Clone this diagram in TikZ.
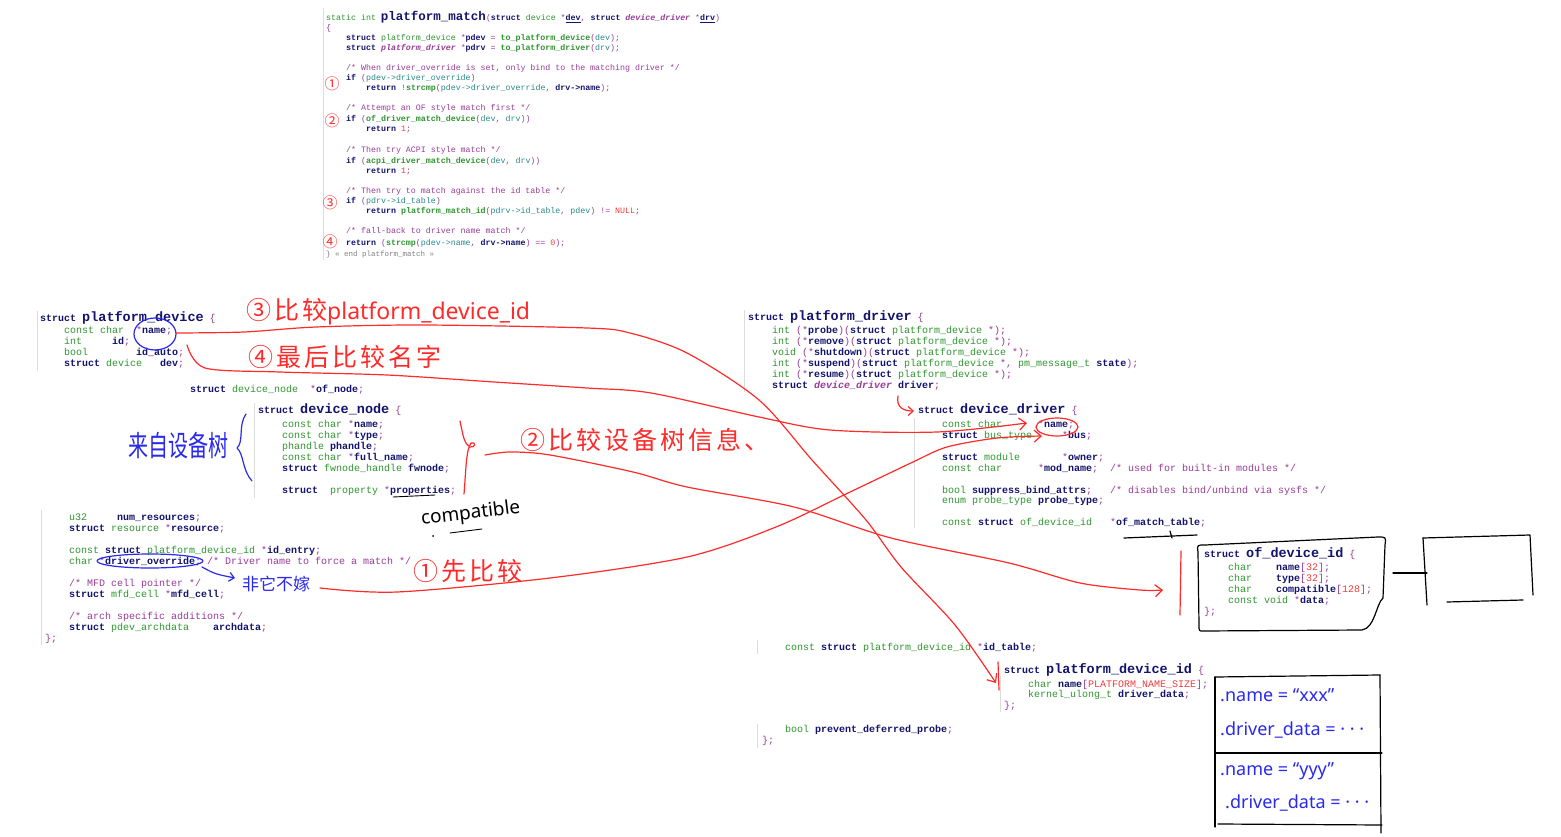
\documentclass[tikz,border=0pt]{standalone}
\usepackage{fontspec}
\usepackage{graphicx}
\usetikzlibrary{arrows.meta}
\newfontfamily\codefont{Liberation Mono}
\newfontfamily\cjkfont{Noto Sans CJK SC}
\newfontfamily\latinhand{Noto Sans}

\definecolor{cnavy}{HTML}{14146E}
\definecolor{cgreen}{HTML}{2F962F}
\definecolor{cteal}{HTML}{2A8A8A}
\definecolor{cpurple}{HTML}{9A3C9A}
\definecolor{numred}{HTML}{F03C3C}
\definecolor{editorgray}{HTML}{DCDCDC}
\definecolor{penred}{HTML}{FF2A2A}
\definecolor{penblue}{HTML}{2A2AEE}

\newcommand\ckw[1]{{\color{cnavy}\bfseries #1}}
\newcommand\cty[1]{{\color{cgreen}#1}}
\newcommand\cfn[1]{{\color{cgreen}\bfseries #1}}
\newcommand\cva[1]{{\color{cteal}#1}}
\newcommand\ccm[1]{{\color{cpurple}#1}}
\newcommand\cnum[1]{{\color{numred}#1}}
\newcommand\cit[1]{{\color{cpurple}\bfseries\itshape #1}}
\newcommand\chd[2][13.5]{{\fontsize{#1}{#1}\selectfont\color{cnavy}\bfseries #2}}
\newcommand\gap[1]{\hspace*{#1\dimexpr.6em\relax}}

\tikzset{
  codeline/.style={anchor=base west, inner sep=0pt, text=cpurple,
    font=\codefont\fontsize{10}{11}\selectfont\frenchspacing},
  matchline/.style={codeline, font=\codefont\fontsize{8.3}{10}\selectfont\frenchspacing},
  editorline/.style={draw=editorgray, line width=0.7pt},
  redpen/.style={draw=penred, line width=1.2pt, line cap=round, line join=round},
  bluepen/.style={draw=penblue, line width=1.2pt, line cap=round, line join=round},
  blackpen/.style={draw=black, line width=1.2pt, line cap=round, line join=round},
  penarrow/.style={-{Straight Barb[length=7pt,width=12pt]}},
  rednote/.style={anchor=base west, inner sep=0pt, text=penred,
    font=\cjkfont\fontsize{25}{25}\selectfont\addfontfeature{LetterSpace=12}},
  bluenote/.style={anchor=base west, inner sep=0pt, text=penblue,
    font=\cjkfont\fontsize{17}{17}\selectfont},
  boxnote/.style={anchor=base west, inner sep=0pt, text=penblue,
    font=\latinhand\fontsize{18}{18}\selectfont},
  redmark/.style={inner sep=0pt, text=penred, font=\cjkfont\fontsize{15}{15}\selectfont}
}

\begin{document}
\catcode`\_=12
\begin{tikzpicture}[x=1pt, y=-1pt]
  \fill[white] (0,0) rectangle (1561,837);
  \useasboundingbox (0,0) rectangle (1561,837);

  \draw[editorline] (323,8) -- (323,260);
  \draw[editorline] (37,311) -- (37,371);
  \draw[editorline] (254,403) -- (254,498);
  \draw[editorline] (41,510) -- (41,645);
  \draw[editorline] (744,310) -- (744,392);
  \draw[editorline] (914,418) -- (914,528);
  \draw[editorline] (757,640) -- (757,654);
  \draw[editorline] (1000,676) -- (1000,712);
  \draw[editorline] (757,724) -- (757,748);

  \foreach \xx/\yy/\txt [count=\k] in {
    326/21/{\cty{static int} \chd[12.5]{platform_match}(\ckw{struct} \cty{device} *\ckw{\underline{dev}}, \ckw{struct} \cit{device_driver} *\ckw{\underline{drv}})},
    326/31/{\{},
    346/41/{\ckw{struct} \cty{platform_device} *\ckw{pdev} = \cfn{to_platform_device}(\cva{dev});},
    346/51/{\ckw{struct} \cit{platform_driver} *\ckw{pdrv} = \cfn{to_platform_driver}(\cva{drv});},
    346/71/{\ccm{/* When driver_override is set, only bind to the matching driver */}},
    346/81/{\ckw{if} (\cva{pdev->driver_override})},
    366/91/{\ckw{return} !\cfn{strcmp}(\cva{pdev->driver_override}, \ckw{drv->name});},
    346/111/{\ccm{/* Attempt an OF style match first */}},
    346/122/{\ckw{if} (\cfn{of_driver_match_device}(\cva{dev}, \cva{drv}))},
    366/132/{\ckw{return} \cnum{1};},
    346/153/{\ccm{/* Then try ACPI style match */}},
    346/164/{\ckw{if} (\cfn{acpi_driver_match_device}(\cva{dev}, \cva{drv}))},
    366/174/{\ckw{return} \cnum{1};},
    346/194/{\ccm{/* Then try to match against the id table */}},
    346/204/{\ckw{if} (\cva{pdrv->id_table})},
    366/214/{\ckw{return} \cfn{platform_match_id}(\cva{pdrv->id_table}, \cva{pdev}) != \cnum{NULL};},
    346/234/{\ccm{/* fall-back to driver name match */}},
    346/245/{\ckw{return} (\cfn{strcmp}(\cva{pdev->name}, \ckw{drv->name}) == \cnum{0});},
    326/257/{{\fontsize{7.5}{8}\selectfont\color{gray}\} « end platform_match »}}}
  {
    \node[matchline] (pm\k) at (\xx,\yy) {\txt};
  }
  \node[redmark] (m1) at (332,84) {①};
  \node[redmark] (m2) at (332,121) {②};
  \node[redmark] (m3) at (330,203) {③};
  \node[redmark] (m4) at (330,242) {④};

  \foreach \xx/\yy/\txt [count=\k] in {
    40/321/{\ckw{struct} \chd{platform_device} \{},
    64/333/{\cty{const char}\gap{2}*\ckw{name};},
    64/344/{\cty{int}\gap{5}\ckw{id};},
    64/355/{\cty{bool}\gap{8}\ckw{id_auto};},
    64/366/{\ckw{struct} \cty{device}\gap{3}\ckw{dev};},
    190/392/{\ckw{struct} \cty{device_node}\gap{2}*\ckw{of_node};},
    69/520/{\cty{u32}\gap{5}\ckw{num_resources};},
    69/531/{\ckw{struct} \cty{resource} *\ckw{resource};},
    69/553/{\cty{const} \ckw{struct} \cty{platform_device_id} *\ckw{id_entry};},
    69/564/{\cty{char} *\ckw{driver_override}; \ccm{/* Driver name to force a match */}},
    69/586/{\ccm{/* MFD cell pointer */}},
    69/597/{\ckw{struct} \cty{mfd_cell} *\ckw{mfd_cell};},
    69/619/{\ccm{/* arch specific additions */}},
    69/630/{\ckw{struct} \cty{pdev_archdata}\gap{4}\ckw{archdata};},
    45/641/{\};}}
  {
    \node[codeline] (pd\k) at (\xx,\yy) {\txt};
  }

  \foreach \xx/\yy/\txt [count=\k] in {
    258/413/{\ckw{struct} \chd{device_node} \{},
    282/427/{\cty{const char} *\ckw{name};},
    282/438/{\cty{const char} *\ckw{type};},
    282/449/{\cty{phandle} \ckw{phandle};},
    282/460/{\cty{const char} *\ckw{full_name};},
    282/471/{\ckw{struct} \cty{fwnode_handle} \ckw{fwnode};},
    282/493/{\ckw{struct}\gap{2}\cty{property} *\ckw{properties};}}
  {
    \node[codeline] (dn\k) at (\xx,\yy) {\txt};
  }

  \foreach \xx/\yy/\txt [count=\k] in {
    748/320/{\ckw{struct} \chd{platform_driver} \{},
    772/333/{\cty{int} (*\ckw{probe})(\ckw{struct} \cty{platform_device} *);},
    772/344/{\cty{int} (*\ckw{remove})(\ckw{struct} \cty{platform_device} *);},
    772/355/{\cty{void} (*\ckw{shutdown})(\ckw{struct} \cty{platform_device} *);},
    772/366/{\cty{int} (*\ckw{suspend})(\ckw{struct} \cty{platform_device} *, \cty{pm_message_t} \ckw{state});},
    772/377/{\cty{int} (*\ckw{resume})(\ckw{struct} \cty{platform_device} *);},
    772/388/{\ckw{struct} \cit{device_driver} \ckw{driver};},
    785/650/{\cty{const} \ckw{struct} \cty{platform_device_id} *\ckw{id_table};},
    785/732/{\cty{bool} \ckw{prevent_deferred_probe};},
    762/743/{\};}}
  {
    \node[codeline] (pdrv\k) at (\xx,\yy) {\txt};
  }

  \foreach \xx/\yy/\txt [count=\k] in {
    918/413/{\ckw{struct} \chd{device_driver} \{},
    942/427/{\cty{const char}\gap{6}*\ckw{name};},
    942/438/{\ckw{struct} \cty{bus_type}\gap{5}*\ckw{bus};},
    942/460/{\ckw{struct} \cty{module}\gap{7}*\ckw{owner};},
    942/471/{\cty{const char}\gap{6}*\ckw{mod_name};\gap{2}\ccm{/* used for built-in modules */}},
    942/493/{\cty{bool} \ckw{suppress_bind_attrs};\gap{3}\ccm{/* disables bind/unbind via sysfs */}},
    942/503/{\cty{enum probe_type} \ckw{probe_type};},
    942/525/{\cty{const} \ckw{struct} \cty{of_device_id}\gap{3}*\ckw{of_match_table};}}
  {
    \node[codeline] (dd\k) at (\xx,\yy) {\txt};
  }

  \foreach \xx/\yy/\txt [count=\k] in {
    1204/557/{\ckw{struct} \chd{of_device_id} \{},
    1228/570/{\cty{char}\gap{4}\ckw{name}[\cnum{32}];},
    1228/581/{\cty{char}\gap{4}\ckw{type}[\cnum{32}];},
    1228/592/{\cty{char}\gap{4}\ckw{compatible}[\cnum{128}];},
    1228/603/{\cty{const void} *\ckw{data};},
    1204/614/{\};},
    1004/673/{\ckw{struct} \chd{platform_device_id} \{},
    1028/687/{\cty{char} \ckw{name}[\cnum{PLATFORM_NAME_SIZE}];},
    1028/697/{\cty{kernel_ulong_t} \ckw{driver_data};},
    1004/708/{\};}}
  {
    \node[codeline] (id\k) at (\xx,\yy) {\txt};
  }

  \node[rednote] (n3) at (246,319) {③比较{\latinhand\addfontfeature{LetterSpace=0}\fontsize{23}{23}\selectfont platform_device_id}};
  \node[rednote] (n4) at (248,366) {④最后比较名字};
  \node[rednote] (n2) at (520,449) {②比较设备树信息、};
  \node[rednote] (n1) at (413,580) {①先比较};
  \node[bluenote, font=\cjkfont\fontsize{25}{25}\selectfont] (ntree) at (128,456) {\scalebox{0.8}[1.15]{来自设备树}};
  \node[bluenote] (nonly) at (242,590) {非它不嫁};
  \node[anchor=west, inner sep=0pt, rotate=7, font=\latinhand\fontsize{19}{19}\selectfont] (ncompat) at (421,520) {compatible};
  \node[boxnote] (t1) at (1220,701) {.name = “xxx”};
  \node[boxnote] (t2) at (1220,735) {.driver_data = · · ·};
  \node[boxnote] (t3) at (1220,775) {.name = “yyy”};
  \node[boxnote] (t4) at (1225,808) {.driver_data = · · ·};

  \draw[bluepen] (155,334) ellipse [x radius=21, y radius=16];
  \draw[bluepen] (150,561) ellipse [x radius=53, y radius=7];
  \coordinate (e0) at (202,567);
  \coordinate (e1) at (235,578);
  \draw[bluepen, -{Straight Barb[length=5pt,width=9pt]}] (e0) .. controls (215,574) .. (e1);
  \draw[bluepen] (246,414) .. controls (238,425) and (244,442) .. (237,448)
    .. controls (244,454) and (242,470) .. (252,481);

  \draw[redpen] (1057,427) ellipse [x radius=21, y radius=9];
  \draw[redpen] (460,421) .. controls (463,435) and (464,444) .. (470,447)
    .. controls (476,448) and (476,441) .. (471,443)
    .. controls (466,450) and (466,470) .. (464,494);
  \draw[redpen] (998,662) -- (999,690);
  \draw[redpen] (1181,551) -- (1180,615);
  \coordinate (f0) at (898,396);
  \coordinate (f1) at (914,411);
  \draw[redpen, -{Straight Barb[length=5pt,width=9pt]}] (f0) .. controls (896,407) and (903,411) .. (f1);

  \coordinate (a0) at (176,333);
  \coordinate (a1) at (996,683);
  \draw[redpen, penarrow] plot[smooth, tension=0.5] coordinates {(a0) (244,332) (316,327) (423,325) (587,328) (630,333) (687,353) (759,400) (812,460) (866,520) (901,567) (955,625) (a1)};
  \coordinate (b0) at (187,345);
  \coordinate (b1) at (1027,423);
  \draw[redpen, penarrow] plot[smooth, tension=0.5] coordinates {(b0) (205,368) (280,372) (387,375) (494,382) (587,388) (651,393) (759,417) (830,430) (937,432) (b1)};
  \coordinate (c0) at (485,455);
  \coordinate (c1) at (1163,590);
  \draw[redpen, penarrow] plot[smooth, tension=0.5] coordinates {(c0) (510,452) (550,455) (633,472) (687,487) (794,507) (891,538) (1009,563) (1080,583) (1140,590) (c1)};
  \coordinate (d0) at (320,588);
  \coordinate (d1) at (1042,436);
  \draw[redpen, penarrow] plot[smooth, tension=0.5] coordinates {(d0) (397,592) (550,578) (687,557) (776,527) (848,493) (913,462) (947,447) (997,438) (d1)};

  \draw[blackpen, line width=0.9pt] (393,497) -- (435,495);
  \draw[blackpen, line width=0.9pt] (450,533) -- (482,529);
  \fill (433,536) circle (1);
  \draw[blackpen] (1124,538) -- (1197,535);
  \draw[blackpen] (1170,531) -- (1172,538);
  \draw[blackpen] (1198,552) .. controls (1197,545) .. (1205,545) -- (1378,537)
    .. controls (1386,537) .. (1385,545) -- (1383,598)
    .. controls (1376,604) and (1375,628) .. (1362,630) -- (1203,631)
    .. controls (1199,631) .. (1199,625) -- cycle;
  \draw[blackpen] (1423,538) -- (1427,605);
  \draw[blackpen] (1423,538) -- (1530,535) -- (1533,595);
  \draw[blackpen] (1447,602) -- (1523,600);
  \draw[blackpen] (1393,573) -- (1427,573);
  \draw[blackpen] (1215,677) -- (1380,675);
  \draw[blackpen] (1215,677) -- (1215,827);
  \draw[blackpen] (1380,675) -- (1381,833);
  \draw[blackpen] (1215,753) -- (1382,753);
  \draw[blackpen] (1218,824) -- (1382,825);
\end{tikzpicture}
\end{document}
